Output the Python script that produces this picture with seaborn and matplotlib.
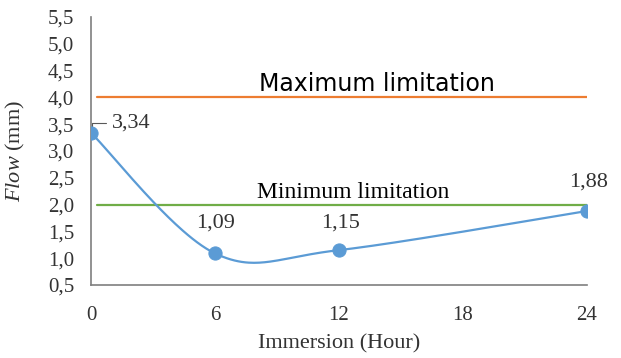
import numpy as np
import pandas as pd
import matplotlib
matplotlib.use('Agg')
import matplotlib.pyplot as plt
import seaborn as sns

# data
hours = [0, 6, 12, 24]
flow = [3.34, 1.09, 1.15, 1.88]
point_labels = ['3,34', '1,09', '1,15', '1,88']
max_limit = 4.0
min_limit = 2.0
limit_names = ['Maximum limitation', 'Minimum limitation']
y_ticks = [0.5, 1.0, 1.5, 2.0, 2.5, 3.0, 3.5, 4.0, 4.5, 5.0, 5.5]
x_ticks = [0, 6, 12, 18, 24]


def excel_smooth(xs, ys, n=60):
    # bezier smoothing like the office "smoothed line" option
    pts = np.column_stack([xs, ys]).astype(float)
    out = []
    for i in range(len(pts) - 1):
        p0 = pts[max(i - 1, 0)]
        p1 = pts[i]
        p2 = pts[i + 1]
        p3 = pts[min(i + 2, len(pts) - 1)]
        c1 = p1 + (p2 - p0) / 6
        c2 = p2 - (p3 - p1) / 6
        t = np.linspace(0, 1, n)[:, None]
        seg = (1 - t) ** 3 * p1 + 3 * (1 - t) ** 2 * t * c1 + 3 * (1 - t) * t ** 2 * c2 + t ** 3 * p2
        out.append(seg if i == 0 else seg[1:])
    return np.vstack(out)


sns.set_style('white')
plt.rcParams['font.family'] = ['Liberation Serif', 'DejaVu Serif']
plt.rcParams['mathtext.fontset'] = 'custom'
plt.rcParams['mathtext.it'] = 'Liberation Serif:italic'
plt.rcParams['mathtext.rm'] = 'Liberation Serif'

fig = plt.figure(figsize=(6.21, 3.58), dpi=100)
ax = fig.add_axes([0.1465, 0.204, 0.7985, 0.7485])

blue = '#5B9BD5'
orange = '#ED7D31'
green = '#70AD47'
txt_col = '#333333'

limits = pd.DataFrame({'x': [0.3, 24, 0.3, 24],
                       'y': [max_limit, max_limit, min_limit, min_limit],
                       'name': [limit_names[0]] * 2 + [limit_names[1]] * 2})
sns.lineplot(data=limits, x='x', y='y', hue='name', palette=[orange, green],
             linewidth=1.6, legend=False, ax=ax)

smooth = excel_smooth(hours, flow)
curve = pd.DataFrame({'x': smooth[:, 0], 'y': smooth[:, 1]})
sns.lineplot(data=curve, x='x', y='y', sort=False, color=blue, linewidth=1.6, ax=ax)
sns.scatterplot(x=hours, y=flow, color=blue, s=90, edgecolor=blue, zorder=5, ax=ax)

# data labels
label_pos = [(1.0, 3.52, 'left'), (6.05, 1.66, 'center'), (12.1, 1.66, 'center'), (24.1, 2.42, 'center')]
for (lx, ly, ha), txt in zip(label_pos, point_labels):
    ax.text(lx, ly, txt, ha=ha, va='center', fontsize=16, color=txt_col)
ax.plot([0.05, 0.05, 0.75], [3.40, 3.52, 3.52], color='#595959', lw=0.8)

ax.text(13.85, 4.03, limit_names[0], ha='center', va='bottom', fontsize=17,
        family=['DejaVu Sans'], color='#000000')
ax.text(12.7, 2.03, limit_names[1], ha='center', va='bottom', fontsize=17, color='#000000')

ax.set_xlim(0, 24)
ax.set_ylim(0.5, 5.5)
ax.set_xticks(x_ticks)
ax.set_yticks(y_ticks)
ax.set_xticklabels([str(v) for v in x_ticks])
ax.set_yticklabels([f'{v:.1f}'.replace('.', ',') for v in y_ticks])
ax.tick_params(axis='both', length=0, labelsize=15, colors=txt_col)
ax.tick_params(axis='y', pad=12)
ax.tick_params(axis='x', pad=15)

for side in ['top', 'right']:
    ax.spines[side].set_visible(False)
for side in ['left', 'bottom']:
    ax.spines[side].set_color('#7F7F7F')
    ax.spines[side].set_linewidth(1.2)

ax.set_xlabel('Immersion (Hour)', fontsize=16, color=txt_col)
ax.set_ylabel(r'$\mathit{Flow}$ (mm)', fontsize=16, color=txt_col)
ax.xaxis.set_label_coords(0.5, -0.185)
ax.yaxis.set_label_coords(-0.13, 0.5)

fig.savefig('out.png', dpi=100)
